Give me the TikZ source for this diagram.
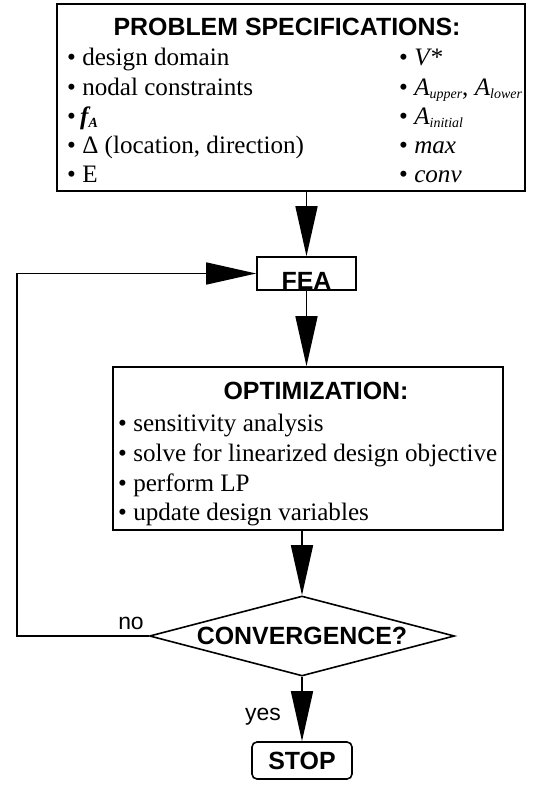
\documentclass[tikz,border=0pt]{standalone}
\usepackage{fontspec}
\setmainfont{Liberation Serif}
\setsansfont{Liberation Sans}
\usetikzlibrary{arrows.meta,shapes.geometric}

\newcommand\lowidx[1]{\raisebox{-0.12em}{\fontsize{14}{14}\selectfont\itshape #1}}

\begin{document}
\begin{tikzpicture}[x=1bp,y=-1bp,
  box/.style={draw,line width=1.6bp,inner sep=0pt},
  flow/.style={line width=1.6bp,-{Triangle[length=50bp,width=22bp]}},
  item/.style={anchor=base west,inner sep=0pt,font=\fontsize{25.2}{28}\selectfont},
  head/.style={inner sep=0pt,font=\sffamily\bfseries\fontsize{25}{28}\selectfont},
  lbl/.style={inner sep=0pt,font=\sffamily\fontsize{23}{28}\selectfont}]
  \useasboundingbox (0,0) rectangle (551,785);

  %% problem specifications
  \node[box,minimum width=468bp,minimum height=187bp] (spec) at (291,97.5) {};
  \node[head,anchor=base] (spectitle) at (287,36) {PROBLEM SPECIFICATIONS:};
  \node[item] (dd) at (67,66) {\textbullet\ design domain};
  \node[item] (nc) at (67,95) {\textbullet\ nodal constraints};
  \node[item] (fa) at (67,124) {\textbullet\,{\bfseries\itshape f}\lowidx{\bfseries A}};
  \node[item] (dl) at (67,153) {\textbullet\ Δ (location, direction)};
  \node[item] (ee) at (67,182) {\textbullet\ E};
  \node[item] (vs) at (399,66) {\textbullet\ \textit{V*}};
  \node[item] (al) at (399,95) {\textbullet\ \textit{A}\lowidx{upper}, \textit{A}\lowidx{lower}};
  \node[item] (ai) at (399,124) {\textbullet\ \textit{A}\lowidx{initial}};
  \node[item] (mx) at (399,153) {\textbullet\ \textit{max}};
  \node[item] (cv) at (399,182) {\textbullet\ \textit{conv}};

  %% FEA
  \node[box,minimum width=99bp,minimum height=33bp] (fea) at (306.5,273.5) {};
  \node[head,anchor=base] (featxt) at (306.5,289) {FEA};

  %% optimization
  \node[box,minimum width=390bp,minimum height=163bp] (opt) at (308,448.5) {};
  \node[head,anchor=base] (opttitle) at (316,399) {OPTIMIZATION:};
  \node[item] (sa) at (118,431) {\textbullet\ sensitivity analysis};
  \node[item] (sl) at (118,461) {\textbullet\ solve for linearized design objective};
  \node[item] (lp) at (118,491) {\textbullet\ perform LP};
  \node[item] (ud) at (118,520) {\textbullet\ update design variables};

  %% convergence and stop
  \node[box,diamond,aspect=3.8,minimum width=305bp,minimum height=80bp,
    font=\sffamily\bfseries\fontsize{25}{28}\selectfont] (conv) at (302,636) {CONVERGENCE?};
  \node[box,rounded corners=5bp,minimum width=100bp,minimum height=37bp,
    font=\sffamily\bfseries\fontsize{25}{28}\selectfont] (stop) at (302,760.5) {STOP};

  %% connectors
  \draw[flow] (spec.south -| fea.north) -- (fea.north);
  \draw[flow] (fea.south) -- (fea.south |- opt.north);
  \draw[flow] (opt.south -| conv.north) -- (conv.north);
  \draw[flow] (conv.south) -- (stop.north);
  \coordinate (back) at (17,636);
  \draw[flow] (conv.west) -- (back) |- (fea.west);

  \node[lbl] (no) at (131,623) {no};
  \node[lbl] (yes) at (263,717) {yes};

\end{tikzpicture}
\end{document}
